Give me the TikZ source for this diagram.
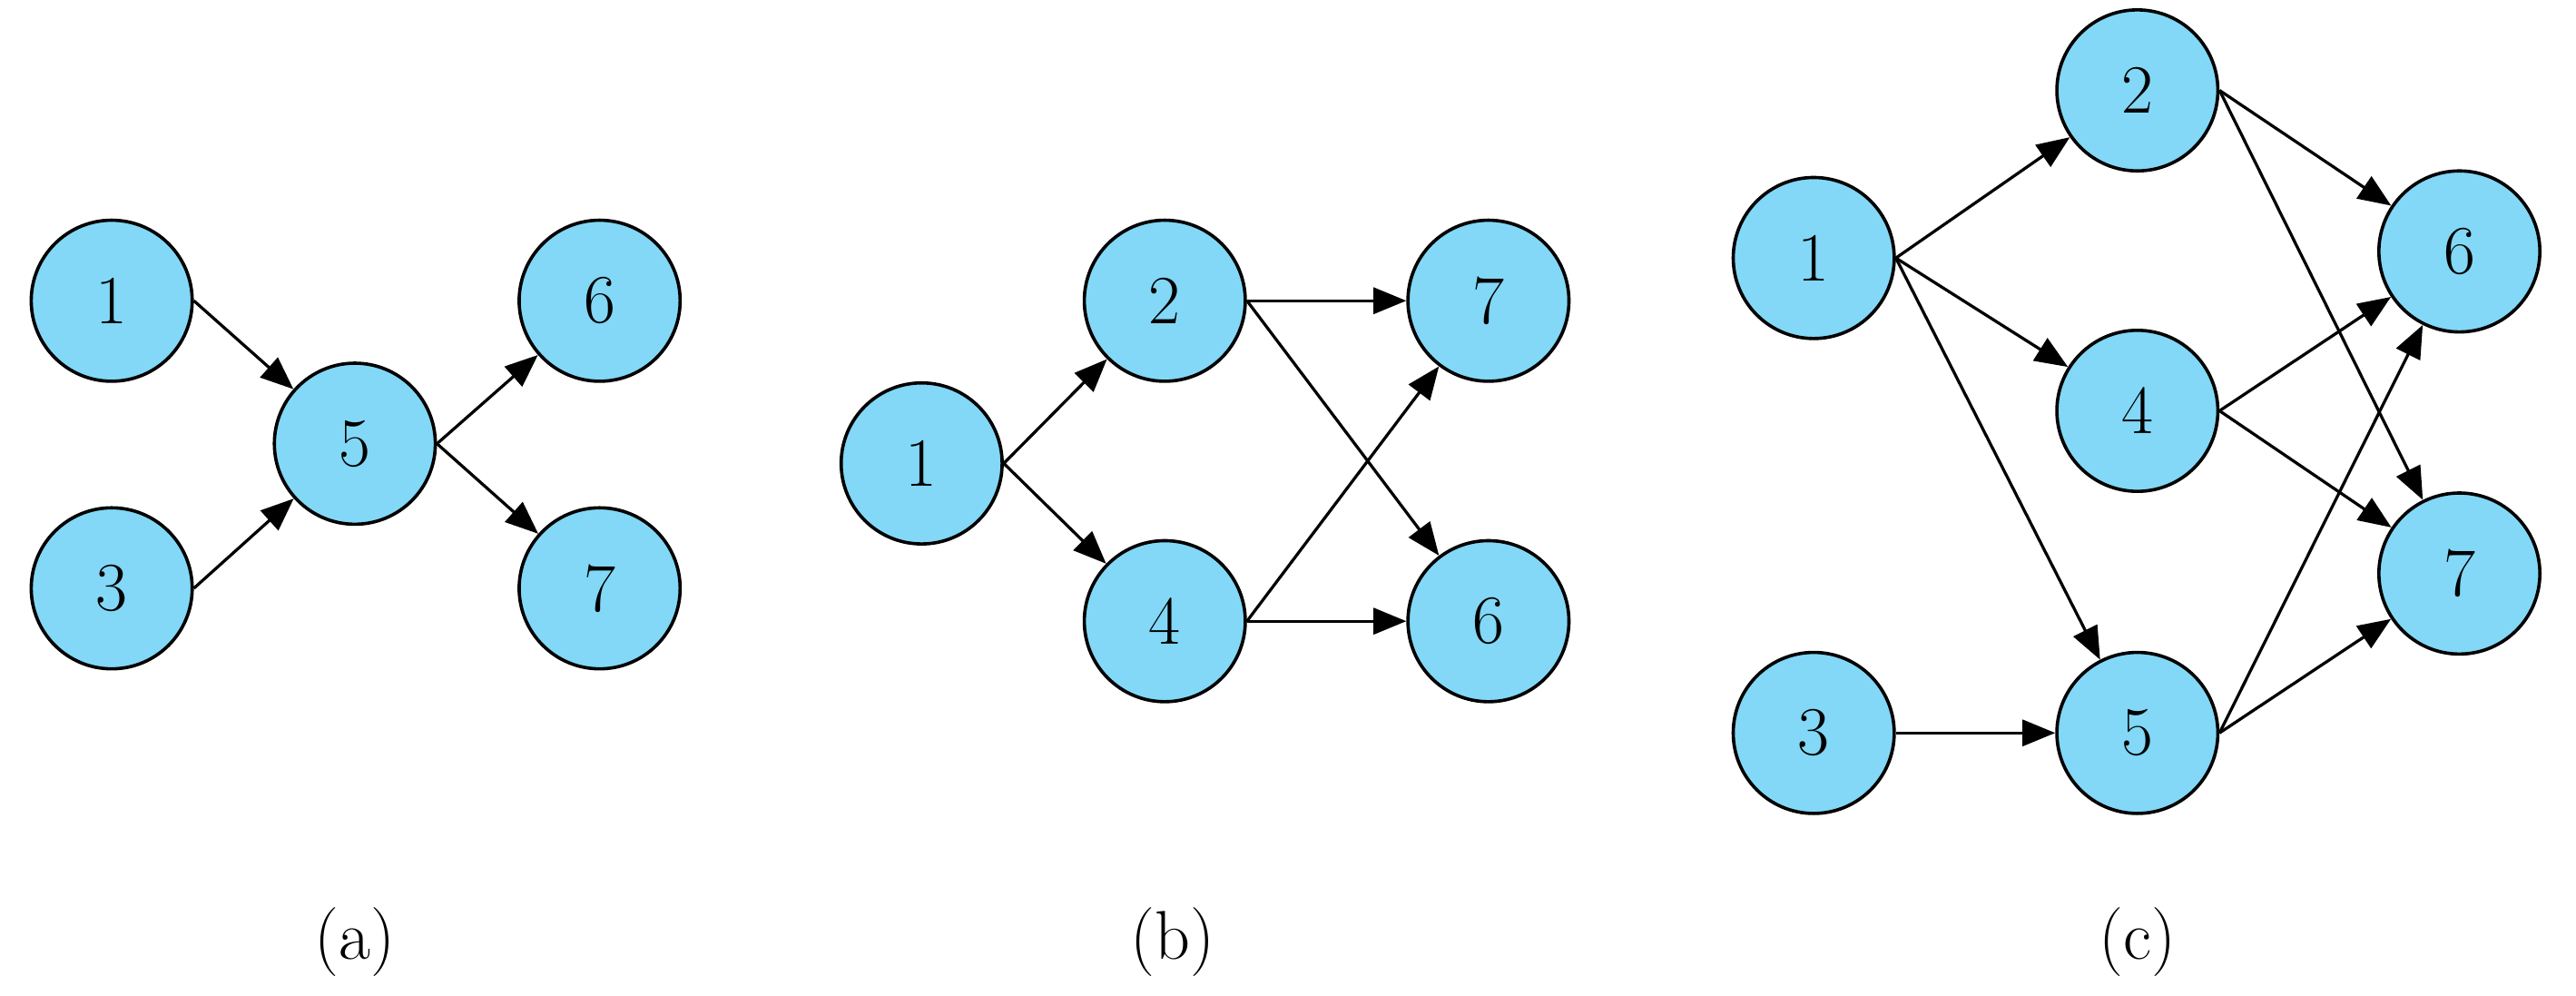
\documentclass[tikz,border=0pt]{standalone}
\usetikzlibrary{arrows.meta}
\definecolor{nb}{RGB}{130,216,246}
\begin{document}
\begin{tikzpicture}[x=0.5pt,y=-0.5pt,
 n/.style={circle,draw,line width=1pt,fill=nb,minimum size=49pt,inner sep=0pt,font=\fontsize{21}{24}\selectfont},
 e/.style={line width=0.9pt,-{Triangle[length=10pt,width=8pt]}},
 lab/.style={font=\fontsize{21}{24}\selectfont}]
\useasboundingbox (0,0) rectangle (1568,606);
% (a)
\node[n] (a1) at (68,183) {1};
\node[n] (a3) at (68,358) {3};
\node[n] (a5) at (216,270) {5};
\node[n] (a6) at (365,183) {6};
\node[n] (a7) at (365,358) {7};
\draw[e] (a1.east) -- (a5);
\draw[e] (a3.east) -- (a5);
\draw[e] (a5.east) -- (a6);
\draw[e] (a5.east) -- (a7);
\node[lab] (la) at (216,573) {(a)};
% (b)
\node[n] (b1) at (561,282) {1};
\node[n] (b2) at (709,183) {2};
\node[n] (b4) at (709,378) {4};
\node[n] (b7) at (906,183) {7};
\node[n] (b6) at (906,378) {6};
\draw[e] (b1.east) -- (b2);
\draw[e] (b1.east) -- (b4);
\draw[e] (b2.east) -- (b7);
\draw[e] (b2.east) -- (b6);
\draw[e] (b4.east) -- (b7);
\draw[e] (b4.east) -- (b6);
\node[lab] (lb) at (714,573) {(b)};
% (c)
\node[n] (c1) at (1104,157) {1};
\node[n] (c2) at (1301,55) {2};
\node[n] (c4) at (1301,250) {4};
\node[n] (c3) at (1104,446) {3};
\node[n] (c5) at (1301,446) {5};
\node[n] (c6) at (1497,153) {6};
\node[n] (c7) at (1497,349) {7};
\draw[e] (c1.east) -- (c2);
\draw[e] (c1.east) -- (c4);
\draw[e] (c1.east) -- (c5);
\draw[e] (c3.east) -- (c5);
\draw[e] (c2.east) -- (c6);
\draw[e] (c2.east) -- (c7);
\draw[e] (c4.east) -- (c6);
\draw[e] (c4.east) -- (c7);
\draw[e] (c5.east) -- (c6);
\draw[e] (c5.east) -- (c7);
\node[lab] (lc) at (1301,573) {(c)};
\end{tikzpicture}
\end{document}
